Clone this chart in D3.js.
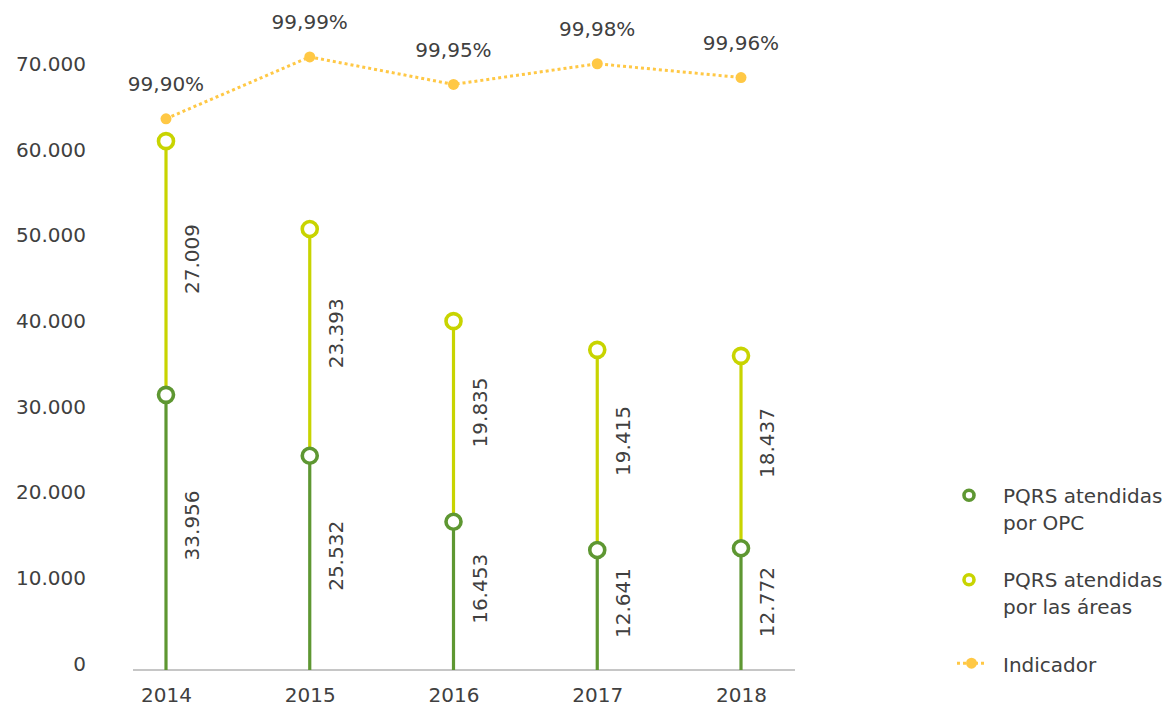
<!DOCTYPE html>
<html>
<head>
<meta charset="utf-8">
<script src="https://cdn.jsdelivr.net/npm/d3@7"></script>
<style>
  body { margin: 0; background: #fff; }
  svg text { font-family: "DejaVu Sans", sans-serif; fill: #404040; }
</style>
</head>
<body>
<div id="chart"></div>
<script>
var years = ["2014", "2015", "2016", "2017", "2018"];
// values printed next to the stems
var opcValues = [33956, 25532, 16453, 12641, 12772];
var areasValues = [27009, 23393, 19835, 19415, 18437];
// marker heights as drawn in the picture
var opcMarks = [32100, 25000, 17300, 14000, 14200];
var areasMarks = [61700, 51450, 40700, 37350, 36650];
var indicatorValues = [99.90, 99.99, 99.95, 99.98, 99.96];
var indicatorLabels = ["99,90%", "99,99%", "99,95%", "99,98%", "99,96%"];
var yTicks = [0, 10000, 20000, 30000, 40000, 50000, 60000, 70000];
var legendLabels = [["PQRS atendidas", "por OPC"], ["PQRS atendidas", "por las áreas"], ["Indicador"]];

function LollipopChart(elementId, chartWidth, chartHeight, colors) {
    this.elementId = elementId;
    this.chartWidth = chartWidth;
    this.chartHeight = chartHeight;
    this.colors = colors;
}

LollipopChart.prototype.createFrame = function() {
    this.svg = d3.select("#" + this.elementId).append("svg")
        .attr("width", this.chartWidth)
        .attr("height", this.chartHeight);
    this.x = d3.scalePoint().domain(years).range([166, 741]);
    this.y = d3.scaleLinear().domain([0, 70000]).range([670, 70]);
    // indicator sits on its own hidden percent scale
    this.yPct = d3.scaleLinear().domain([99.8, 100]).range([187.6, 50]);
}

LollipopChart.prototype.createAxes = function() {
    var fmt = d3.formatLocale({decimal: ",", thousands: ".", grouping: [3], currency: ["", ""]}).format(",");

    this.svg.append("line")
        .attr("x1", 133).attr("x2", 795)
        .attr("y1", this.y(0)).attr("y2", this.y(0))
        .attr("stroke", "#b3b3b3")
        .attr("stroke-width", 1.5);

    var yAxis = this.svg.append("g")
        .attr("transform", "translate(86,0)")
        .call(d3.axisLeft(this.y).tickValues(yTicks).tickSize(0).tickPadding(0).tickFormat(fmt));
    yAxis.select(".domain").remove();
    yAxis.selectAll("text")
        .attr("dy", "0.02em")
        .style("font-size", "20px")
        .style("font-family", null)
        .attr("fill", null);

    var xAxis = this.svg.append("g")
        .attr("transform", "translate(0," + this.y(0) + ")")
        .call(d3.axisBottom(this.x).tickSize(0).tickPadding(18));
    xAxis.select(".domain").remove();
    xAxis.selectAll("text")
        .style("font-size", "20px")
        .style("font-family", null)
        .attr("fill", null);
}

LollipopChart.prototype.createStems = function() {
    var thisObj = this;
    var rows = years.map(function(d, i) {
        return {year: d, opc: opcMarks[i], areas: areasMarks[i], opcLabel: opcValues[i], areasLabel: areasValues[i]};
    });
    var fmt = d3.formatLocale({decimal: ",", thousands: ".", grouping: [3], currency: ["", ""]}).format(",");

    var g = this.svg.append("g").selectAll("g")
        .data(rows)
        .join("g")
        .attr("transform", function(d) { return "translate(" + thisObj.x(d.year) + ",0)"; });

    g.append("line")
        .attr("y1", function(d) { return thisObj.y(d.opc); })
        .attr("y2", function(d) { return thisObj.y(d.areas); })
        .attr("stroke", this.colors.areas)
        .attr("stroke-width", 3.2);

    g.append("line")
        .attr("y1", this.y(0))
        .attr("y2", function(d) { return thisObj.y(d.opc); })
        .attr("stroke", this.colors.opc)
        .attr("stroke-width", 3.2);

    g.append("circle")
        .attr("cy", function(d) { return thisObj.y(d.areas); })
        .attr("r", 7.5)
        .attr("fill", "#fff")
        .attr("stroke", this.colors.areas)
        .attr("stroke-width", 3.6);

    g.append("circle")
        .attr("cy", function(d) { return thisObj.y(d.opc); })
        .attr("r", 7.5)
        .attr("fill", "#fff")
        .attr("stroke", this.colors.opc)
        .attr("stroke-width", 3.6);

    g.append("text")
        .attr("transform", function(d) {
            var mid = (thisObj.y(d.areas) + thisObj.y(d.opc)) / 2 - 9;
            return "translate(26," + mid + ") rotate(-90)";
        })
        .attr("text-anchor", "middle")
        .attr("dy", "0.36em")
        .style("font-size", "20px")
        .text(function(d) { return fmt(d.areasLabel); });

    g.append("text")
        .attr("transform", function(d) {
            var mid = (thisObj.y(0) + thisObj.y(d.opc)) / 2 - 7;
            return "translate(26," + mid + ") rotate(-90)";
        })
        .attr("text-anchor", "middle")
        .attr("dy", "0.36em")
        .style("font-size", "20px")
        .text(function(d) { return fmt(d.opcLabel); });
}

LollipopChart.prototype.createIndicator = function() {
    var thisObj = this;
    var line = d3.line()
        .x(function(d, i) { return thisObj.x(years[i]); })
        .y(function(d) { return thisObj.yPct(d); });

    this.svg.append("path")
        .datum(indicatorValues)
        .attr("d", line)
        .attr("fill", "none")
        .attr("stroke", this.colors.indicator)
        .attr("stroke-width", 3)
        .attr("stroke-dasharray", "3,3");

    this.svg.append("g").selectAll("circle")
        .data(indicatorValues)
        .join("circle")
        .attr("cx", function(d, i) { return thisObj.x(years[i]); })
        .attr("cy", function(d) { return thisObj.yPct(d); })
        .attr("r", 5.5)
        .attr("fill", this.colors.indicator);

    this.svg.append("g").selectAll("text")
        .data(indicatorValues)
        .join("text")
        .attr("x", function(d, i) { return thisObj.x(years[i]); })
        .attr("y", function(d) { return thisObj.yPct(d) - 27.5; })
        .attr("text-anchor", "middle")
        .style("font-size", "20px")
        .text(function(d, i) { return indicatorLabels[i]; });
}

LollipopChart.prototype.createLegend = function() {
    var colors = this.colors;
    var keys = ["opc", "areas", "indicator"];
    var legend = this.svg.selectAll(".legend")
        .data(legendLabels)
        .enter().append("g")
        .attr("class", "legend")
        .attr("transform", function(d, i) { return "translate(0," + (502.7 + i * 84.5) + ")"; });

    legend.each(function(d, i) {
        var el = d3.select(this);
        if (keys[i] === "indicator") {
            el.append("line")
                .attr("x1", 957).attr("x2", 986)
                .attr("y1", -8.5).attr("y2", -8.5)
                .attr("stroke", colors.indicator)
                .attr("stroke-width", 3)
                .attr("stroke-dasharray", "3,3");
            el.append("circle")
                .attr("cx", 971.5).attr("cy", -8.5)
                .attr("r", 5.5)
                .attr("fill", colors.indicator);
        } else {
            el.append("circle")
                .attr("cx", 969).attr("cy", -7.5)
                .attr("r", 5)
                .attr("fill", "#fff")
                .attr("stroke", colors[keys[i]])
                .attr("stroke-width", 3.6);
        }
        el.selectAll("text")
            .data(d)
            .join("text")
            .attr("x", 1003)
            .attr("y", function(t, j) { return j * 27; })
            .style("font-size", "20px")
            .text(function(t) { return t; });
    });
}

LollipopChart.prototype.create = function() {
    this.createFrame();
    this.createAxes();
    this.createStems();
    this.createIndicator();
    this.createLegend();
}

var chart = new LollipopChart("chart", 1169, 706, {opc: "#5e9732", areas: "#c8d400", indicator: "#ffc845"});
chart.create();
</script>
</body>
</html>
